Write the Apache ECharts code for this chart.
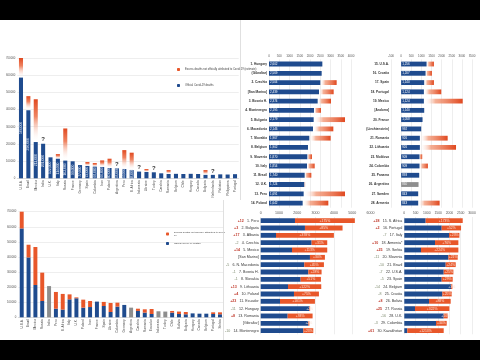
<!DOCTYPE html>
<html><head><meta charset="utf-8">
<script src="https://cdn.jsdelivr.net/npm/echarts/dist/echarts.min.js"></script>
<style>html,body{margin:0;padding:0;background:#fff}#c{width:480px;height:360px}</style>
</head><body><div id="c"></div><script>
// ---------- top-left: absolute deaths ----------
const tlCategories = ['U.S.A.','Brazil','Mexico','India','U.K.','Italy','Russia','France','Germany','Spain','Colombia','Iran','Poland','Argentina','Peru','S. Africa','Indonesia','Ukraine','Turkey','Czechia','Romania','Belgium','Chile','Hungary','Canada','Bulgaria','Netherlands','Pakistan','Philippines','Portugal'];
const tlOfficial = [586000,396000,211000,201000,122000,114000,103000,99000,77000,72000,68000,66000,60000,58000,54000,48000,39000,37000,35000,29000,25000,26000,25000,26000,25000,20000,20000,23000,22000,24000];
const tlTotal = [700000,478000,460000,null,null,141000,290000,null,null,95000,89000,104000,114000,null,164000,149000,null,54000,null,null,48000,null,null,null,null,48000,null,null,null,null];
const tlMarks = ['','','','?','','','','','','','','','','?','','','?','','?','','','','','','','','?','','',''];
const tlYTicks = [0,100000,200000,300000,400000,500000,600000,700000];

// ---------- bottom-left ----------
const blCategories = ['U.S.A.','Brazil','Mexico','Russia','India','Peru','S. Africa','Italy','U.K.','Poland','Iran','France','Spain','Ukraine','Colombia','Germany','Argentina','Czechia','Romania','Ecuador','Indonesia','Turkey','Chile','Bolivia','Bulgaria','Hungary','Canada','Belgium','Portugal','Serbia'];
const blOfficial = [589000,397000,214000,108000,null,57000,51000,119000,126000,64000,68000,104000,75000,35000,71000,82000,null,42000,31000,22000,null,null,31000,22000,20000,26000,24000,24000,22000,20000];
const blNoExcessData = [null,null,null,null,207000,null,null,null,null,null,null,null,null,null,null,null,64000,null,null,null,40000,38000,null,null,null,null,null,null,null,null];
const blTotal = [717000,481000,466000,296000,null,168000,155000,152000,132000,117000,108000,null,102000,95000,97000,null,null,57000,53000,55000,null,null,42000,38000,35000,null,null,null,33000,33000];

// ---------- panel A (ranks 1-14 official per million) ----------
const aNames = ['1. Hungary','(Gibraltar)','2. Czechia','[San Marino]','3. Bosnia H.','4. Montenegro','5. Bulgaria','6. Macedonia','7. Slovakia','8. Belgium','9. Slovenia','10. Italy','11. Brazil','12. U.K.','13. Peru','14. Poland'];
const aOfficial = [2602,2569,2504,2439,2374,2195,2179,2146,1967,1902,1870,1854,1740,1724,1691,1642];
const aTotal = [null,null,3300,3154,3024,2537,3707,3138,3008,null,2098,2228,2065,1760,3707,2894];

// ---------- panel B (ranks 15-28) ----------
const bNames = ['15. U.S.A.','16. Croatia','17. Spain','18. Portugal','19. Mexico','[Andorra]','20. France','(Liechtenstein)','21. Romania','22. Lithuania','23. Moldova','24. Colombia','25. Panama','26. Argentina','27. Sweden','28. Armenia'];
const bOfficial = [1256,1207,1140,1124,1124,1140,1058,992,926,926,909,909,893,null,843,843];
const bNoExcessData = [null,null,null,null,null,null,null,null,null,null,null,null,null,860,null,null];
const bTotal = [1620,1521,1620,1983,3041,null,null,null,2298,2711,1041,1322,null,null,null,1901];

// ---------- panel C (excess ranks 1-14) ----------
const cDelta = ['+12','+3','+17','-2','+14','','-5','-1','-1','+13','+4','+23','-11','+8','','-10'];
const cNames = ['1. Peru','2. Bulgaria','3. Albania','4. Czechia','5. Mexico','[San Marino]','6. N. Macedonia','7. Bosnia H.','8. Slovakia','9. Lithuania','10. Poland','11. Ecuador','12. Hungary','13. Romania','[Gibraltar]','14. Montenegro'];
const cOfficial = [1873,2418,836,2782,1709,2691,2382,2600,2182,1491,1818,1055,2655,1473,2600,2327];
const cTotal = [5145,4473,4000,3636,3636,3509,3455,3327,3291,3309,3182,2964,2700,2836,2660,2873];

// ---------- panel D (excess ranks 15-30) ----------
const dDelta = ['+28','+2','-7','+10','+25','-11','-10','-7','-5','-14','-8','+8','+25','-16','-3','+61'];
const dNames = ['15. S. Africa','16. Portugal','17. Italy','18. Armenia*','19. Serbia','20. Slovenia','21. Brazil','22. U.S.A.','23. Spain','24. Belgium','25. Croatia','26. Bolivia','27. Russia','28. U.K.','29. Colombia','30. Kazakhstan'];
const dOfficial = [947,1657,1982,1361,740,1953,1834,1746,1657,2071,1686,1095,473,1746,1405,133];
const dTotal = [2589,2515,2441,2396,2396,2367,2278,2175,2145,2130,2101,2056,1997,1923,1879,1746];

const OFF = 'Official Covid-19 deaths';
const EXC = 'Excess deaths not officially attributed to Covid-19';
const GRY = 'No excess-mortality data';
const BLUE = '#1f4b8e', ORANGE = '#e8572a', GRAY = '#8e8e8e';
const fmt = v => Number(v).toLocaleString('en-US');
const plain = v => String(v);
const diff = (tot, off) => tot.map((t, i) => t == null ? null : t - (off[i] || 0));

const vGrad = new echarts.graphic.LinearGradient(0, 0, 0, 1, [
  {offset: 0, color: '#e0481f'}, {offset: 0.4, color: 'rgba(236,110,70,0.85)'}, {offset: 1, color: 'rgba(255,255,255,0)'}]);
const hGrad = () => new echarts.graphic.LinearGradient(0, 0, 1, 0, [
  {offset: 0, color: 'rgba(255,255,255,0)'}, {offset: 0.3, color: 'rgba(242,150,115,0.75)'}, {offset: 1, color: '#e0481f'}]);

const catLabel = {fontSize: 3.2, color: '#333', fontWeight: 'bold'};
const valAxisTop = (gi, min, max, iv, fs) => ({type: 'value', gridIndex: gi, position: 'top', min, max, interval: iv,
  axisLine: {show: false}, axisTick: {show: false},
  axisLabel: {fontSize: fs, color: '#555', margin: 2, formatter: plain},
  splitLine: {show: true, showMaxLine: gi !== 4, lineStyle: {color: '#e3e3e3', width: 0.6}}});
const rankRich = {
  up: {color: '#c0392b', fontSize: 3.6, fontWeight: 'bold'},
  dn: {color: '#7f8b70', fontSize: 3.6},
  n: {color: '#333', fontSize: 3.6}
};
const rankFmt = deltas => (v, i) => {
  const d = deltas[i];
  if (!d) return '{n|' + v + '}';
  return (d[0] === '+' ? '{up|' : '{dn|') + d + '} {n|' + v + '}';
};
const pctLabel = (tot, off) => ({show: true, position: 'inside', fontSize: 3.4, color: '#fbe3d8',
  formatter: p => '+' + Math.round((tot[p.dataIndex] - off[p.dataIndex]) / off[p.dataIndex] * 100) + '%'});

const chart = echarts.init(document.getElementById('c'));
chart.setOption({
  backgroundColor: '#fff',
  animation: false,
  textStyle: {fontFamily: 'Liberation Sans, Arial, sans-serif'},
  grid: [
    {left: 17.3, top: 58, width: 221.4, height: 120.3},
    {left: 18.3, top: 211.7, width: 205.1, height: 105.6},
    {left: 269, top: 59.4, width: 82, height: 148.3},
    {left: 391, top: 59.4, width: 81, height: 148.3},
    {left: 260.7, top: 217, width: 109.8, height: 117.3},
    {left: 404.3, top: 217, width: 67.7, height: 117.3}
  ],
  legend: [
    {left: 172, top: 63, orient: 'vertical', itemGap: 13, itemWidth: 3, itemHeight: 3, selectedMode: false,
      textStyle: {fontSize: 2.7, color: '#444'},
      data: [{name: EXC + ' (estimate)', itemStyle: {color: ORANGE}}, {name: OFF, itemStyle: {color: BLUE}}]},
    {left: 161, top: 226, orient: 'vertical', itemGap: 5, itemWidth: 3, itemHeight: 3, selectedMode: false,
      textStyle: {fontSize: 2.5, color: '#444'},
      formatter: n => n === EXC ? 'Excess deaths not officially attributed to Covid-\n19' : n,
      data: [{name: EXC, itemStyle: {color: ORANGE}}, {name: OFF, itemStyle: {color: BLUE}}]}
  ],
  xAxis: [
    {type: 'category', gridIndex: 0, data: tlCategories, axisTick: {show: false},
      axisLine: {lineStyle: {color: '#cfcfcf', width: 0.6}},
      axisLabel: {interval: 0, rotate: 90, fontSize: 3.2, color: '#444', margin: 2}},
    {type: 'category', gridIndex: 1, data: blCategories, axisTick: {show: false},
      axisLine: {lineStyle: {color: '#cfcfcf', width: 0.6}},
      axisLabel: {interval: 0, rotate: 90, fontSize: 3.2, color: '#444', margin: 2}},
    valAxisTop(2, 0, 4000, 500, 3),
    valAxisTop(3, -500, 3500, 500, 3),
    valAxisTop(4, 0, 6000, 1000, 3.6),
    valAxisTop(5, 0, 3000, 500, 3.4)
  ],
  yAxis: [
    {type: 'value', gridIndex: 0, min: tlYTicks[0], max: tlYTicks[tlYTicks.length - 1], interval: 100000,
      axisLabel: {fontSize: 2.8, color: '#555', margin: 2, formatter: plain},
      splitLine: {lineStyle: {color: '#e3e3e3', width: 0.6}}},
    {type: 'value', gridIndex: 1, min: 0, max: 700000, interval: 100000,
      axisLabel: {fontSize: 2.8, color: '#555', margin: 2, formatter: plain},
      splitLine: {lineStyle: {color: '#e3e3e3', width: 0.6}}},
    {type: 'category', gridIndex: 2, inverse: true, data: aNames, axisTick: {show: false}, axisLine: {show: false},
      axisLabel: Object.assign({interval: 0, margin: 2}, catLabel)},
    {type: 'category', gridIndex: 3, inverse: true, data: bNames, axisTick: {show: false}, axisLine: {show: false},
      axisLabel: Object.assign({interval: 0, margin: 2}, catLabel)},
    {type: 'category', gridIndex: 4, inverse: true, data: cNames, axisTick: {show: false}, axisLine: {show: false},
      axisLabel: {interval: 0, margin: 2, formatter: rankFmt(cDelta), rich: rankRich}},
    {type: 'category', gridIndex: 5, inverse: true, data: dNames, axisTick: {show: false}, axisLine: {show: false},
      axisLabel: {interval: 0, margin: 2, formatter: rankFmt(dDelta), rich: rankRich}}
  ],
  series: [
    // top-left
    {type: 'bar', name: OFF, xAxisIndex: 0, yAxisIndex: 0, stack: 'tl', data: tlOfficial, barWidth: '55%',
      itemStyle: {color: BLUE},
      label: {show: true, position: 'inside', rotate: 90, fontSize: 3.4, color: '#dfe6f2',
        formatter: p => p.value > 45000 ? fmt(p.value) : ''}},
    {type: 'bar', name: EXC + ' (estimate)', xAxisIndex: 0, yAxisIndex: 0, stack: 'tl',
      data: tlOfficial.map((v, i) => tlTotal[i] != null ? tlTotal[i] - v : (tlMarks[i] ? 0 : null)),
      itemStyle: {color: vGrad},
      label: {show: true, position: 'top', distance: 1, fontSize: 6, color: '#333', fontWeight: 'bold',
        formatter: p => tlMarks[p.dataIndex] || ''}},
    // bottom-left
    {type: 'bar', name: OFF, xAxisIndex: 1, yAxisIndex: 1, stack: 'bl', data: blOfficial, barWidth: '58%',
      itemStyle: {color: BLUE}},
    {type: 'bar', name: GRY, xAxisIndex: 1, yAxisIndex: 1, stack: 'bl', data: blNoExcessData,
      itemStyle: {color: GRAY}},
    {type: 'bar', name: EXC, xAxisIndex: 1, yAxisIndex: 1, stack: 'bl', data: diff(blTotal, blOfficial),
      itemStyle: {color: ORANGE}},
    // panel A
    {type: 'bar', name: OFF, xAxisIndex: 2, yAxisIndex: 2, stack: 'a', data: aOfficial, barWidth: '52%',
      itemStyle: {color: BLUE},
      label: {show: true, position: 'insideLeft', distance: 1, fontSize: 3, color: '#fff', formatter: p => fmt(p.value)}},
    {type: 'bar', name: EXC, xAxisIndex: 2, yAxisIndex: 2, stack: 'a', data: diff(aTotal, aOfficial),
      itemStyle: {color: hGrad()}},
    // panel B
    {type: 'bar', name: OFF, xAxisIndex: 3, yAxisIndex: 3, stack: 'b', data: bOfficial, barWidth: '52%',
      itemStyle: {color: BLUE},
      label: {show: true, position: 'insideLeft', distance: 1, fontSize: 3, color: '#fff', formatter: p => fmt(p.value)}},
    {type: 'bar', name: GRY, xAxisIndex: 3, yAxisIndex: 3, stack: 'b', data: bNoExcessData,
      itemStyle: {color: GRAY},
      label: {show: true, position: 'insideLeft', distance: 1, fontSize: 3, color: '#eee', formatter: p => fmt(p.value)}},
    {type: 'bar', name: EXC, xAxisIndex: 3, yAxisIndex: 3, stack: 'b', data: diff(bTotal, bOfficial),
      itemStyle: {color: hGrad()}},
    // panel C
    {type: 'bar', name: OFF, xAxisIndex: 4, yAxisIndex: 4, stack: 'c', data: cOfficial, barWidth: '66%',
      itemStyle: {color: BLUE}},
    {type: 'bar', name: EXC, xAxisIndex: 4, yAxisIndex: 4, stack: 'c', data: diff(cTotal, cOfficial),
      itemStyle: {color: ORANGE}, label: pctLabel(cTotal, cOfficial)},
    // panel D
    {type: 'bar', name: OFF, xAxisIndex: 5, yAxisIndex: 5, stack: 'd', data: dOfficial, barWidth: '66%',
      itemStyle: {color: BLUE}},
    {type: 'bar', name: EXC, xAxisIndex: 5, yAxisIndex: 5, stack: 'd', data: diff(dTotal, dOfficial),
      itemStyle: {color: ORANGE}, label: pctLabel(dTotal, dOfficial)}
  ],
  graphic: [
    {type: 'line', shape: {x1: 240.5, y1: 20, x2: 240.5, y2: 200}, style: {stroke: '#d8d8d8', lineWidth: 0.8}, z: 50},
    {type: 'line', shape: {x1: 223.5, y1: 200, x2: 223.5, y2: 340}, style: {stroke: '#d8d8d8', lineWidth: 0.8}, z: 50},
    {type: 'rect', shape: {x: 0, y: 0, width: 480, height: 20}, style: {fill: '#000'}, z: 100},
    {type: 'rect', shape: {x: 0, y: 340, width: 480, height: 20}, style: {fill: '#000'}, z: 100}
  ]
});
</script></body></html>
